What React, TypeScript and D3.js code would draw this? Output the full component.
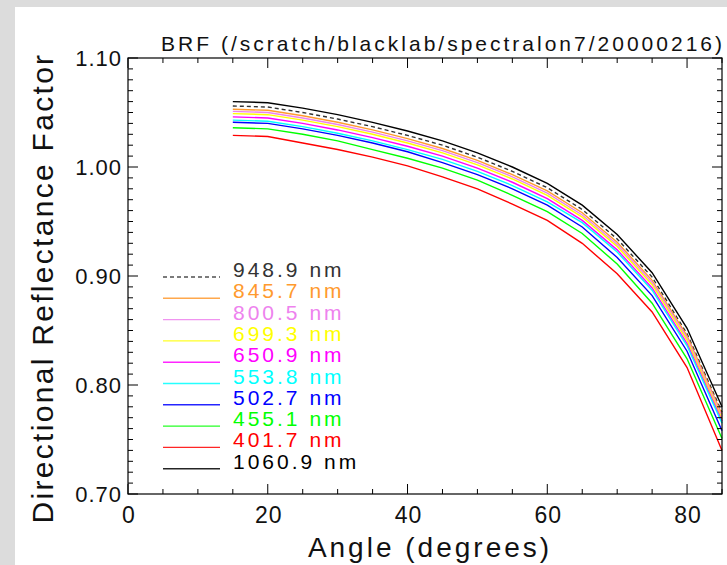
import React from "react";
import * as d3 from "d3";

const angles = [15, 20, 25, 30, 35, 40, 45, 50, 55, 60, 65, 70, 75, 80, 85];

const wl9489 = [1.056, 1.055, 1.050, 1.044, 1.037, 1.029, 1.020, 1.009, 0.996, 0.981, 0.961, 0.934, 0.899, 0.847, 0.775];
const wl8457 = [1.053, 1.052, 1.047, 1.041, 1.034, 1.026, 1.017, 1.006, 0.993, 0.978, 0.958, 0.931, 0.896, 0.845, 0.773];
const wl8005 = [1.051, 1.050, 1.045, 1.039, 1.032, 1.024, 1.015, 1.004, 0.991, 0.976, 0.956, 0.929, 0.894, 0.843, 0.771];
const wl6993 = [1.049, 1.048, 1.043, 1.037, 1.030, 1.022, 1.013, 1.002, 0.989, 0.974, 0.954, 0.927, 0.892, 0.841, 0.769];
const wl6509 = [1.046, 1.045, 1.040, 1.034, 1.027, 1.019, 1.010, 0.999, 0.986, 0.971, 0.951, 0.924, 0.889, 0.838, 0.767];
const wl5538 = [1.043, 1.042, 1.037, 1.031, 1.024, 1.016, 1.007, 0.996, 0.983, 0.968, 0.949, 0.922, 0.887, 0.836, 0.765];
const wl5027 = [1.041, 1.040, 1.035, 1.029, 1.022, 1.014, 1.004, 0.993, 0.980, 0.965, 0.945, 0.917, 0.882, 0.831, 0.758];
const wl4551 = [1.036, 1.035, 1.030, 1.024, 1.016, 1.008, 0.999, 0.988, 0.974, 0.959, 0.939, 0.911, 0.875, 0.824, 0.751];
const wl4017 = [1.029, 1.028, 1.022, 1.016, 1.009, 1.001, 0.991, 0.980, 0.966, 0.951, 0.930, 0.902, 0.867, 0.816, 0.740];
const wl10609 = [1.060, 1.059, 1.054, 1.048, 1.041, 1.033, 1.024, 1.013, 1.000, 0.985, 0.965, 0.938, 0.903, 0.852, 0.780];

const names = ["948.9 nm", "845.7 nm", "800.5 nm", "699.3 nm", "650.9 nm", "553.8 nm", "502.7 nm", "455.1 nm", "401.7 nm", "1060.9 nm"];
const colors = ["#333333", "#ff9a2e", "#ee82ee", "#ffff00", "#ff00ff", "#00ffff", "#0000ff", "#00ff00", "#ff0000", "#000000"];
const seriesValues = [wl9489, wl8457, wl8005, wl6993, wl6509, wl5538, wl5027, wl4551, wl4017, wl10609];

const xMajor = [0, 20, 40, 60, 80];
const yMajor = [0.7, 0.8, 0.9, 1.0, 1.1];

const W = 727, H = 565;
const font = "'Liberation Sans', Arial, Helvetica, sans-serif";

export default function App() {
  const x = d3.scaleLinear().domain([0, 85]).range([128, 722]);
  const y = d3.scaleLinear().domain([0.7, 1.1]).range([494, 58]);
  const line = d3.line<number>().x((d, i) => x(angles[i])).y((d) => y(d));

  const xMinor = d3.range(0, 86, 5);
  const yMinor = d3.range(70, 111, 1).map((v) => v / 100);
  const [x0, x1] = x.range();
  const [yb, yt] = y.range();

  return (
    <svg width={W} height={H} style={{ position: "absolute", left: 0, top: 0, display: "block" }} fontFamily={font}>
      <rect width={W} height={H} fill="#dcdcdc" />
      <rect x={15} y={7} width={W - 15} height={H - 7} fill="#ffffff" />

      <text x={725} y={51} textAnchor="end" fontSize={21} letterSpacing={3} fill="#111">BRF (/scratch/blacklab/spectralon7/20000216)</text>

      {seriesValues.map((vals, i) => (
        <path key={names[i]} d={line(vals) || ""} fill="none" stroke={colors[i]} strokeWidth={1.4}
          strokeDasharray={i === 0 ? "4,3" : undefined} />
      ))}

      {/* frame + ticks */}
      <rect x={x0} y={yt} width={x1 - x0} height={yb - yt} fill="none" stroke="#000" strokeWidth={1.2} />
      {xMinor.map((v) => {
        const len = v % 20 === 0 ? 10 : 5;
        return (
          <g key={"xt" + v} stroke="#000" strokeWidth={1}>
            <line x1={x(v)} x2={x(v)} y1={yb} y2={yb - len} />
            <line x1={x(v)} x2={x(v)} y1={yt} y2={yt + len} />
          </g>
        );
      })}
      {yMinor.map((v, i) => {
        const len = i % 10 === 0 ? 10 : 5;
        return (
          <g key={"yt" + i} stroke="#000" strokeWidth={1}>
            <line x1={x0} x2={x0 + len} y1={y(v)} y2={y(v)} />
            <line x1={x1} x2={x1 - len} y1={y(v)} y2={y(v)} />
          </g>
        );
      })}
      {xMajor.map((v) => (
        <text key={"xl" + v} x={x(v) + 1} y={523} textAnchor="middle" fontSize={23} letterSpacing={1} fill="#111">{v}</text>
      ))}
      {yMajor.map((v) => (
        <text key={"yl" + v} x={122} y={y(v) + 8} textAnchor="end" fontSize={22} letterSpacing={1} fill="#111">{d3.format(".2f")(v)}</text>
      ))}

      <text x={430} y={557} textAnchor="middle" fontSize={28} letterSpacing={3} fill="#111">Angle (degrees)</text>
      <text transform={`translate(53,288) rotate(-90)`} textAnchor="middle" fontSize={30} letterSpacing={2.3} fill="#111">Directional Reflectance Factor</text>

      {/* legend */}
      {names.map((n, i) => {
        const ty = 277 + i * 21.3;
        return (
          <g key={"lg" + n}>
            <line x1={163} x2={220} y1={ty} y2={ty} stroke={colors[i]} strokeWidth={1.4} opacity={0.85}
              strokeDasharray={i === 0 ? "4,3" : undefined} />
            <text x={233} y={ty} fontSize={21} letterSpacing={3} fill={colors[i]}>{n}</text>
          </g>
        );
      })}
    </svg>
  );
}
